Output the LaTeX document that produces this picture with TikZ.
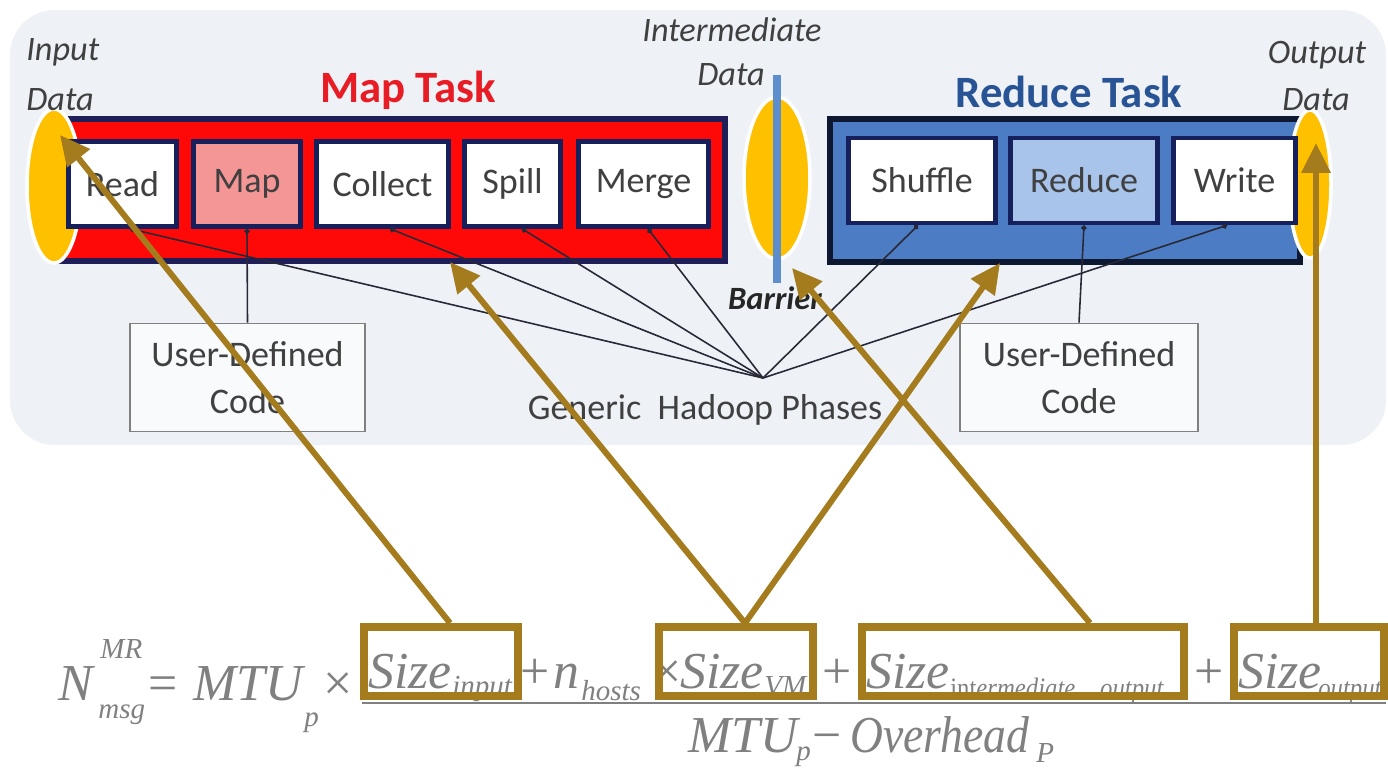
\documentclass[tikz,border=0pt]{standalone}
\usepackage{fontspec}
\setmainfont{Carlito}
\newfontfamily\formfont{Liberation Serif}
\newfontfamily\formnarrow[FakeStretch=0.88]{Liberation Serif}
\usetikzlibrary{arrows.meta,calc,shapes.geometric}

\definecolor{panel}{RGB}{238,242,247}
\definecolor{mapred}{RGB}{255,8,8}
\definecolor{mapedge}{RGB}{32,30,88}
\definecolor{mapcell}{RGB}{244,150,150}
\definecolor{redblue}{RGB}{76,125,196}
\definecolor{redEdge}{RGB}{14,24,48}
\definecolor{redcell}{RGB}{168,196,234}
\definecolor{celledge}{RGB}{22,32,92}
\definecolor{gold}{RGB}{255,192,0}
\definecolor{barrierblue}{RGB}{92,142,206}
\definecolor{maptitle}{RGB}{232,28,36}
\definecolor{redtitle}{RGB}{40,84,150}
\definecolor{ink}{RGB}{64,64,64}
\definecolor{fanline}{RGB}{40,40,55}
\definecolor{brown}{RGB}{164,124,30}
\definecolor{formgray}{RGB}{128,128,128}

\tikzset{
  x=0.02cm, y=-0.02cm,
  cell/.style={draw=celledge, line width=2.6pt, fill=white, inner sep=0pt,
    minimum height=1.70cm, text=ink, font=\fontsize{20.5}{22}\selectfont},
  tasktitle/.style={font=\fontsize{25.5}{28}\selectfont\bfseries},
  tag/.style={font=\fontsize{19.5}{21}\selectfont\itshape, text=ink, inner sep=0pt},
  udc/.style={draw=gray, line width=1.1pt, fill=panel!40!white, inner sep=0pt,
    minimum width=4.7cm, minimum height=2.16cm, align=center, text=ink,
    font=\fontsize{20.5}{27}\selectfont},
  drop/.style={ellipse, draw=white, line width=2pt, fill=gold, inner sep=0pt},
  fan/.style={fanline, line width=0.9pt, -{Circle[length=3pt]}},
  link/.style={brown, line width=3.4pt, -{Triangle[length=17pt,width=16pt]}},
  term/.style={draw=brown, line width=4.5pt, inner sep=0pt, minimum height=1.38cm},
  big/.style={anchor=base west, inner sep=0pt, text=formgray,
    font=\formfont\itshape\fontsize{29.5}{30}\selectfont},
  op/.style={anchor=base west, inner sep=0pt, text=formgray,
    font=\formfont\fontsize{29.5}{30}\selectfont},
  small/.style={anchor=base west, inner sep=0pt, text=formgray,
    font=\formfont\itshape\fontsize{16.5}{17}\selectfont},
  smallnarrow/.style={anchor=base west, inner sep=0pt, text=formgray,
    font=\formnarrow\itshape\fontsize{16}{17}\selectfont},
}

\begin{document}
\begin{tikzpicture}
\useasboundingbox (0,0) rectangle (1388,772);
\fill[white] (0,0) rectangle (1388,772);

% light panel behind the task diagram
\fill[panel, rounded corners=0.9cm] (10,10) rectangle (1386,445);

% task bands
\filldraw[fill=mapred, draw=mapedge, line width=3pt] (60,119) rectangle (725,261);
\filldraw[fill=redblue, draw=redEdge, line width=3pt] (830,119) rectangle (1300,262);

% data ellipses
\node[drop, minimum width=1.08cm, minimum height=3.08cm] (indata) at (54,186) {};
\node[drop, minimum width=1.32cm, minimum height=3.24cm] (middata) at (777,178) {};
\node[drop, minimum width=0.84cm, minimum height=2.96cm] (outdata) at (1310,184) {};

% barrier
\coordinate (bartop) at (777,75);
\coordinate (barbot) at (777,283);
\draw[barrierblue, line width=4pt] (bartop) -- (barbot);

% map phases
\node[cell, minimum width=2.17cm] (read) at (122.5,184) {Read};
\node[cell, minimum width=2.15cm, fill=mapcell] (map) at (247,184) {Map};
\node[cell, minimum width=2.65cm] (collect) at (382.5,184) {Collect};
\node[cell, minimum width=1.93cm] (spill) at (512.5,184) {Spill};
\node[cell, minimum width=2.61cm] (merge) at (643.5,184) {Merge};

% reduce phases
\node[cell, minimum width=2.95cm] (shuffle) at (922,180.5) {Shuffle};
\node[cell, minimum width=2.95cm, fill=redcell] (reduce) at (1084,180.5) {Reduce};
\node[cell, minimum width=2.45cm] (write) at (1234.5,180.5) {Write};

% titles and data labels
\node[tasktitle, text=maptitle] (maptitle) at (408,90) {Map Task};
\node[tasktitle, text=redtitle] (redtitle) at (1069,92) {Reduce Task};
\node[tag, anchor=west] (inlab1) at (26,52) {Input};
\node[tag, anchor=west] (inlab2) at (26,100) {Data};
\node[tag] (midlab1) at (732,30) {Intermediate};
\node[tag] (midlab2) at (731,75) {Data};
\node[tag] (outlab1) at (1317,55) {Output};
\node[tag] (outlab2) at (1316,100) {Data};
\node[font=\fontsize{18.5}{20}\selectfont\bfseries\itshape, text=black!85, inner sep=0pt]
  (barrier) at (775,298) {Barrier};

% user-defined code and generic phases
\node[udc] (udcmap) at (247.5,377.5) {User-Defined\\Code};
\node[udc, minimum width=4.76cm] (udcred) at (1079,377.5) {User-Defined\\Code};
\node[font=\fontsize{20.5}{22}\selectfont, text=ink, inner sep=0pt] (generic) at (705,410)
  {Generic\ \ Hadoop Phases};
\coordinate (hub) at (763,378);

\draw[fan] (udcmap.north) -- (map.south);
\draw[fan] (udcred.north) -- (reduce.south);
\draw[fan] (hub) -- ($(read.south)+(7.5,0)$);
\draw[fan] (hub) -- ($(collect.south)+(7.5,0)$);
\draw[fan] (hub) -- ($(spill.south)+(9.5,0)$);
\draw[fan] (hub) -- ($(merge.south)+(4.5,0)$);
\draw[fan] (hub) -- ($(shuffle.south)+(-4,0)$);
\draw[fan] (hub) -- ($(write.south)+(-7.5,0)$);

% formula: left-hand side
\node[big] (fN) at (58,700) {N};
\node[small] (fMR) at (100,658) {MR};
\node[small] (fmsg) at (98,718) {msg};
\node[op] (feq) at (148,700) {=};
\node[big] (fMTU) at (193,700) {MTU};
\node[small] (fp) at (304,726) {p};
\node[op] (fdot) at (323,700) {×};

% numerator
\node[big] (fs1) at (368,688) {Size};
\node[small] (fs1i) at (452,695) {input};
\node[op] (fplus1) at (520,688) {+};
\node[big] (fn) at (553,688) {n};
\node[small] (fhosts) at (581,700) {hosts};
\node[op] (fdot2) at (652,688) {×};
\node[big] (fs2) at (680,688) {Size};
\node[small] (fs2i) at (764,695) {VM};
\node[op] (fplus2) at (822,688) {+};
\node[big] (fs3) at (866,688) {Size};
\node[smallnarrow] (fs3i) at (950,697) {\upshape int\itshape ermediate\ \ \ \ output};
\node[op] (fplus3) at (1194,688) {+};
\node[big] (fs4) at (1238,688) {Size};
\node[smallnarrow] (fs4i) at (1318,697) {output};

\coordinate (barL) at (362,703);
\coordinate (barR) at (1386,703);
\draw[formgray, line width=1.2pt] (barL) -- (barR);

% denominator
\node[big] (dMTU) at (688,752) {MTU};
\node[small] (dp) at (796,760) {p};
\node[op] (dminus) at (812,752) {−};
\node[big, font=\formnarrow\itshape\fontsize{29.5}{30}\selectfont] (dover) at (850,752) {Overhead};
\node[small] (dP) at (1036,762) {P};

% highlighted terms
\node[term, minimum width=3.07cm] (t1) at (441,661.5) {};
\node[term, minimum width=3.07cm] (t2) at (736,661.5) {};
\node[term, minimum width=6.43cm] (t3) at (1023,661.5) {};
\node[term, minimum width=3.00cm] (t4) at (1309,661.5) {};

% links from terms to the data they count
\coordinate (tipin) at (60,135);
\coordinate (tipmap) at (450,262);
\coordinate (tipred) at (1000,263);
\coordinate (tipmid) at (792,268);
\coordinate (tipout) at (1316,143);
\draw[link] ($(t1.north)+(9,0)$) -- (tipin);
\draw[link] ($(t2.north)+(9,0)$) -- (tipmap);
\draw[link] ($(t2.north)+(9,0)$) -- (tipred);
\draw[link] ($(t3.north)+(67,0)$) -- (tipmid);
\draw[link] (t4.north -| tipout) -- (tipout);
\end{tikzpicture}
\end{document}
